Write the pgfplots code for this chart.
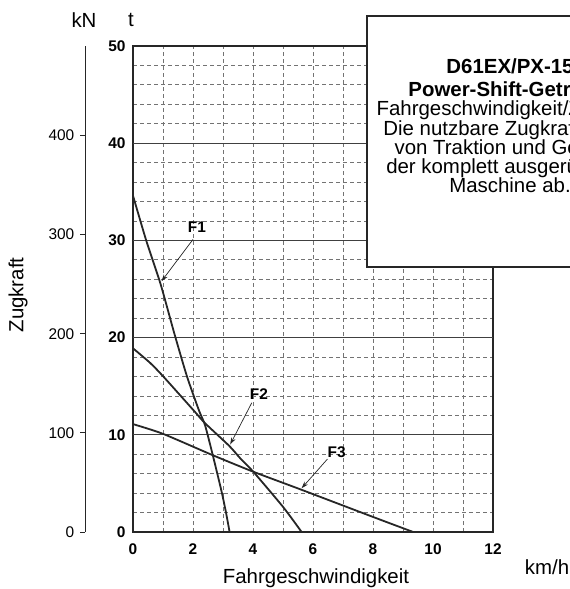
\documentclass[border=0pt]{standalone}
\usepackage{pgfplots}
\pgfplotsset{compat=1.18}
\usepackage{fontspec}
\setmainfont{Liberation Sans}
\usetikzlibrary{arrows.meta}

\newcommand\tickfont{\fontsize{15.5}{16}\selectfont}
\newcommand\labfont{\fontsize{20.5}{19.2}\selectfont}

\begin{document}
\begin{tikzpicture}
\useasboundingbox (-133bp,-57bp) rectangle (437bp,532bp);
\clip (-133bp,-57bp) rectangle (437bp,532bp);

% kN scale on the left
\begin{axis}[
  at={(-47.5bp,0bp)}, anchor=south west,
  scale only axis, width=10bp, height=486bp,
  xmin=0, xmax=1, ymin=0, ymax=490.33,
  hide x axis, axis y line*=left,
  y axis line style={-, line width=1.3bp, black!85},
  ytick={0,100,200,300,400},
  yticklabels={0,100,200,300,400},
  tick align=outside, major tick length=5bp,
  ytick style={line width=1bp, black!85},
  yticklabel style={font=\tickfont, inner sep=2bp, xshift=-4bp},
]
\end{axis}

% main chart in t
\begin{axis}[
  at={(0bp,0bp)}, anchor=south west,
  scale only axis, width=360bp, height=486bp,
  xmin=0, xmax=12, ymin=0, ymax=50,
  xtick={0,...,12},
  xticklabels={0,,2,,4,,6,,8,,10,,12},
  ytick={0,2,...,50},
  yticklabels={0,,,,,10,,,,,20,,,,,30,,,,,40,,,,,50},
  extra y ticks={10,20,30,40},
  extra y tick labels={},
  extra y tick style={grid style={solid, black!75, line width=1.2bp}},
  grid=major,
  grid style={dash pattern=on 4bp off 3bp, black!55, line width=0.8bp},
  major tick length=0pt,
  axis line style={line width=1.6bp, black!85},
  tick label style={font=\tickfont\bfseries},
  xticklabel style={yshift=-8bp},
  yticklabel style={xshift=-4bp},
  clip=false,
]
% F1
\addplot[line width=1.8bp, black!85, smooth, tension=0.4] coordinates {
  (0,34.6) (0.44,30.0) (0.92,25.5) (1.38,20.4) (1.80,16.0) (2.20,12.5)
  (2.40,11.0) (2.66,7.9) (2.95,4.2) (3.10,2.0) (3.22,0)
};
% F2
\addplot[line width=1.8bp, black!85, smooth, tension=0.4] coordinates {
  (0,18.9) (0.57,17.4) (1.01,16.0) (2.01,12.55) (2.40,11.2) (3.21,8.85)
  (3.57,7.6) (4.01,6.2) (5.01,2.55) (5.62,0)
};
% F3
\addplot[line width=1.8bp, black!85, smooth, tension=0.4] coordinates {
  (0,11.1) (1,10.1) (2.66,7.9) (4.01,6.2) (5.57,4.4) (8,1.55) (9.34,0)
};

\draw[line width=0.7bp, black!85, -{Stealth[length=7bp, width=4.5bp]}]
  (axis cs:2.0,30.1) -- (axis cs:0.95,25.8);
\node[font=\tickfont\bfseries] at (axis cs:2.13,31.4) {F1};
\draw[line width=0.7bp, black!85, -{Stealth[length=7bp, width=4.5bp]}]
  (axis cs:3.96,13.3) -- (axis cs:3.24,9.0);
\node[font=\tickfont\bfseries] at (axis cs:4.2,14.2) {F2};
\draw[line width=0.7bp, black!85, -{Stealth[length=7bp, width=4.5bp]}]
  (axis cs:6.48,7.5) -- (axis cs:5.62,4.5);
\node[font=\tickfont\bfseries] at (axis cs:6.79,8.26) {F3};
\end{axis}

% info box (cut off at the right edge)
\fill[white] (234bp,265bp) rectangle (445bp,516bp);
\draw[line width=1.5bp, black!85] (445bp,516bp) -- (234bp,516bp);
\draw[line width=2.5bp, black!85] (234bp,516.75bp) -- (234bp,265bp) -- (445bp,265bp);
\node[anchor=base, font=\labfont\bfseries] at (377bp,458.7bp) {D61EX/PX-15};
\node[anchor=base, font=\labfont\bfseries] at (377bp,435.3bp) {Power-Shift-Getriebe};
\node[anchor=base, font=\labfont] at (377bp,416bp) {Fahrgeschwindigkeit/Zugkraft};
\node[anchor=base, font=\labfont] at (377bp,396.8bp) {Die nutzbare Zugkraft hängt};
\node[anchor=base, font=\labfont] at (377bp,377.6bp) {von Traktion und Gewicht};
\node[anchor=base, font=\labfont] at (377bp,358.4bp) {der komplett ausgerüsteten};
\node[anchor=base, font=\labfont] at (377bp,339.2bp) {Maschine ab.};

% axis titles and units
\node[font=\labfont] at (-49bp,512bp) {kN};
\node[font=\labfont] at (-2bp,512bp) {t};
\node[font=\labfont, rotate=90] at (-115bp,237bp) {Zugkraft};
\node[font=\labfont] at (183bp,-46bp) {Fahrgeschwindigkeit};
\node[font=\labfont] at (414bp,-35bp) {km/h};
\end{tikzpicture}
\end{document}
